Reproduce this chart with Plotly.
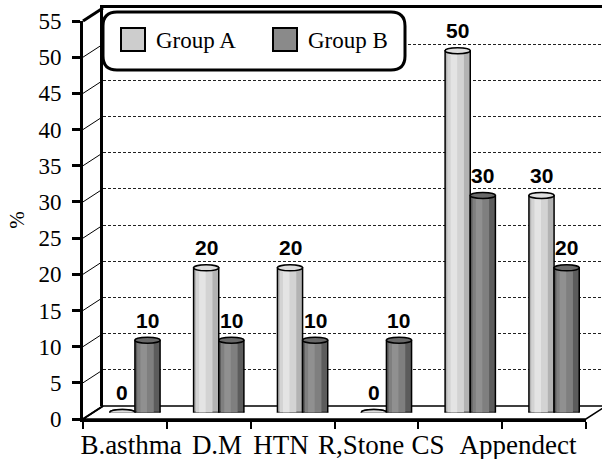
import plotly.graph_objects as go

# ---- data -------------------------------------------------------------
categories = ["B.asthma", "D.M", "HTN", "R,Stone", "CS", "Appendect"]
group_a = [0, 20, 20, 0, 50, 30]
group_b = [10, 10, 10, 10, 30, 20]
series_names = ["Group A", "Group B"]
y_ticks = [0, 5, 10, 15, 20, 25, 30, 35, 40, 45, 50, 55]

# ---- page geometry (pixels) -----------------------------------------
W, H = 602, 459
Y_MAX = 55
FRONT_X, FRONT_Y0, FRONT_TOP = 83, 419, 21      # front (axis) plane
DX, DY = 20, 13                                 # depth offset of the back wall
UNIT = (FRONT_Y0 - FRONT_TOP) / Y_MAX           # pixels per percent
CAT_SPAN = 503                                  # width of the six categories
BACK_X, BACK_Y0 = FRONT_X + DX, FRONT_Y0 - DY
MID_X, MID_Y0 = FRONT_X + DX / 2, FRONT_Y0 - DY / 2
LABEL_CENTERS_PX = [131, 217, 281, 361, 428, 518]

BAR_W = 0.3
SERIF = "Liberation Serif"
SANS = "Liberation Sans"


def px(x):
    return x / W


def py(y):
    return 1 - y / H


def y_dom(y0):
    return [py(y0), py(y0 - Y_MAX * UNIT)]


styles = [
    dict(offset=-BAR_W, edge="#b3b3b3", body="#d3d3d3", shine="#e4e4e4",
         top="#dedede", swatch="#cdcdcd"),
    dict(offset=0.0, edge="#5c5c5c", body="#7f7f7f", shine="#909090",
         top="#686868", swatch="#8a8a8a"),
]

fig = go.Figure()

# empty traces so every helper subplot is built
fig.add_trace(go.Scatter(x=[None], y=[None], xaxis="x", yaxis="y", showlegend=False))

# cylinders: an outlined base column plus two narrower shading strips
for name, values, st in zip(series_names, [group_a, group_b], styles):
    layers = [(0.0, 1.0, st["edge"], 1.5), (0.09, 0.66, st["body"], 0),
              (0.22, 0.26, st["shine"], 0)]
    for k, (start, frac, color, lw) in enumerate(layers):
        fig.add_trace(go.Bar(
            x=categories, y=values, name=name,
            xaxis="x2", yaxis="y2",
            offset=st["offset"] + start * BAR_W, width=frac * BAR_W,
            marker=dict(color=color, line=dict(color="black", width=lw)),
            showlegend=False, hoverinfo="skip" if k else None,
        ))

fig.add_trace(go.Scatter(x=[None], y=[None], xaxis="x3", yaxis="y3", showlegend=False))
fig.add_trace(go.Scatter(x=[None], y=[None], xaxis="x4", yaxis="y3", showlegend=False))

shapes = []

# floor
fl = [(FRONT_X, FRONT_Y0), (FRONT_X + CAT_SPAN, FRONT_Y0),
      (FRONT_X + CAT_SPAN + DX, BACK_Y0), (BACK_X, BACK_Y0)]
shapes.append(dict(
    type="path", xref="paper", yref="paper", layer="below",
    path="M" + " L".join(f"{px(a):.5f},{py(b):.5f}" for a, b in fl) + " Z",
    fillcolor="white", line=dict(color="black", width=1.6)))

# side wall: lines joining each front tick to the back wall
for v in y_ticks:
    w = 3 if v == Y_MAX else (2 if v == 0 else 1)
    shapes.append(dict(
        type="line", xref="paper", yref="paper", layer="above",
        x0=px(FRONT_X), y0=py(FRONT_Y0 - v * UNIT),
        x1=px(BACK_X), y1=py(BACK_Y0 - v * UNIT),
        line=dict(color="black", width=w)))

# cylinder ends
for values, st in zip([group_a, group_b], styles):
    for i, v in enumerate(values):
        x0 = i + st["offset"]
        common = dict(type="circle", xref="x2", yref="y2", ysizemode="pixel",
                      x0=x0, x1=x0 + BAR_W, y0=-3, y1=3,
                      line=dict(color="black", width=1.5))
        shapes.append(dict(common, yanchor=0, layer="between",
                           fillcolor=st["body"]))
        shapes.append(dict(common, yanchor=v, layer="above",
                           fillcolor=st["top"]))

# legend frame
lx0, lx1, ly0, ly1, r = 103, 405, 12, 70, 14
rx, ry = r / W, r / H
X0, X1, Y0, Y1 = px(lx0), px(lx1), py(ly0), py(ly1)
legend_path = (
    f"M{X0 + rx},{Y0} L{X1 - rx},{Y0} Q{X1},{Y0} {X1},{Y0 - ry} "
    f"L{X1},{Y1 + ry} Q{X1},{Y1} {X1 - rx},{Y1} "
    f"L{X0 + rx},{Y1} Q{X0},{Y1} {X0},{Y1 + ry} "
    f"L{X0},{Y0 - ry} Q{X0},{Y0} {X0 + rx},{Y0} Z")
shapes.append(dict(type="path", xref="paper", yref="paper", layer="above",
                   path=legend_path, fillcolor="white",
                   line=dict(color="black", width=3)))

annotations = []
for k, (name, st) in enumerate(zip(series_names, styles)):
    sx = 121 + 152 * k
    shapes.append(dict(type="rect", xref="paper", yref="paper", layer="above",
                       x0=px(sx), x1=px(sx + 24), y0=py(28), y1=py(51),
                       fillcolor=st["swatch"], line=dict(color="black", width=2)))
    annotations.append(dict(
        xref="paper", yref="paper", x=px(sx + 33), y=py(40),
        xanchor="left", yanchor="middle", showarrow=False, text=name,
        font=dict(family=SERIF, size=23, color="black")))

# value labels above each cylinder
for values, st in zip([group_a, group_b], styles):
    for i, v in enumerate(values):
        annotations.append(dict(
            xref="x2", yref="y2", x=i + st["offset"] + BAR_W / 2, y=v,
            yshift=20, showarrow=False, text=str(v),
            font=dict(family=SANS, size=21, color="black", weight="bold")))

hidden = dict(visible=True, showgrid=False, zeroline=False, showline=False,
              showticklabels=False, ticks="", automargin=False)

fig.update_layout(
    width=W, height=H,
    margin=dict(l=0, r=0, t=0, b=0, autoexpand=False),
    paper_bgcolor="white", plot_bgcolor="rgba(0,0,0,0)",
    barmode="overlay", showlegend=False,
    # back wall
    xaxis=dict(domain=[px(BACK_X), 1], range=[0, 1], anchor="y", side="top",
               showgrid=False, zeroline=False, showticklabels=False, ticks="",
               showline=True, linecolor="black", linewidth=3, automargin=False),
    yaxis=dict(domain=y_dom(BACK_Y0), range=[0, Y_MAX], anchor="x",
               tickvals=y_ticks[1:-1], showticklabels=False, ticks="",
               showgrid=True, gridcolor="#222222", gridwidth=1, griddash="3px,2px",
               zeroline=False, showline=True, linecolor="black", linewidth=3,
               automargin=False),
    # cylinders, half way into the depth
    xaxis2=dict(hidden, domain=[px(MID_X), px(MID_X + CAT_SPAN)],
                range=[-0.5, len(categories) - 0.5], anchor="y2",
                type="category"),
    yaxis2=dict(hidden, domain=y_dom(MID_Y0), range=[0, Y_MAX], anchor="x2"),
    # front axes
    xaxis3=dict(domain=[px(FRONT_X), px(FRONT_X + CAT_SPAN)],
                range=[0, len(categories)], anchor="y3",
                tickvals=list(range(len(categories) + 1)),
                showticklabels=False, ticks="outside", ticklen=7, tickwidth=2,
                tickcolor="black", showgrid=False, zeroline=False,
                showline=True, linecolor="black", linewidth=3, automargin=False),
    yaxis3=dict(domain=y_dom(FRONT_Y0), range=[0, Y_MAX], anchor="x3",
                tickvals=y_ticks, ticks="outside", ticklen=8, tickwidth=3,
                tickcolor="black", ticklabelstandoff=6,
                tickfont=dict(family=SERIF, size=23, color="black"),
                showgrid=False, zeroline=False, automargin=False,
                showline=True, linecolor="black", linewidth=3,
                title=dict(text="%", standoff=9,
                           font=dict(family=SERIF, size=21, color="black"))),
    # category names under the floor
    xaxis4=dict(domain=[0, 1], range=[0, W], anchor="y3",
                tickvals=LABEL_CENTERS_PX, ticktext=categories,
                ticks="", showgrid=False, zeroline=False, showline=False,
                ticklabelstandoff=7, automargin=False,
                tickfont=dict(family=SERIF, size=27, color="black")),
    shapes=shapes,
    annotations=annotations,
)

fig.write_html("out.html")
